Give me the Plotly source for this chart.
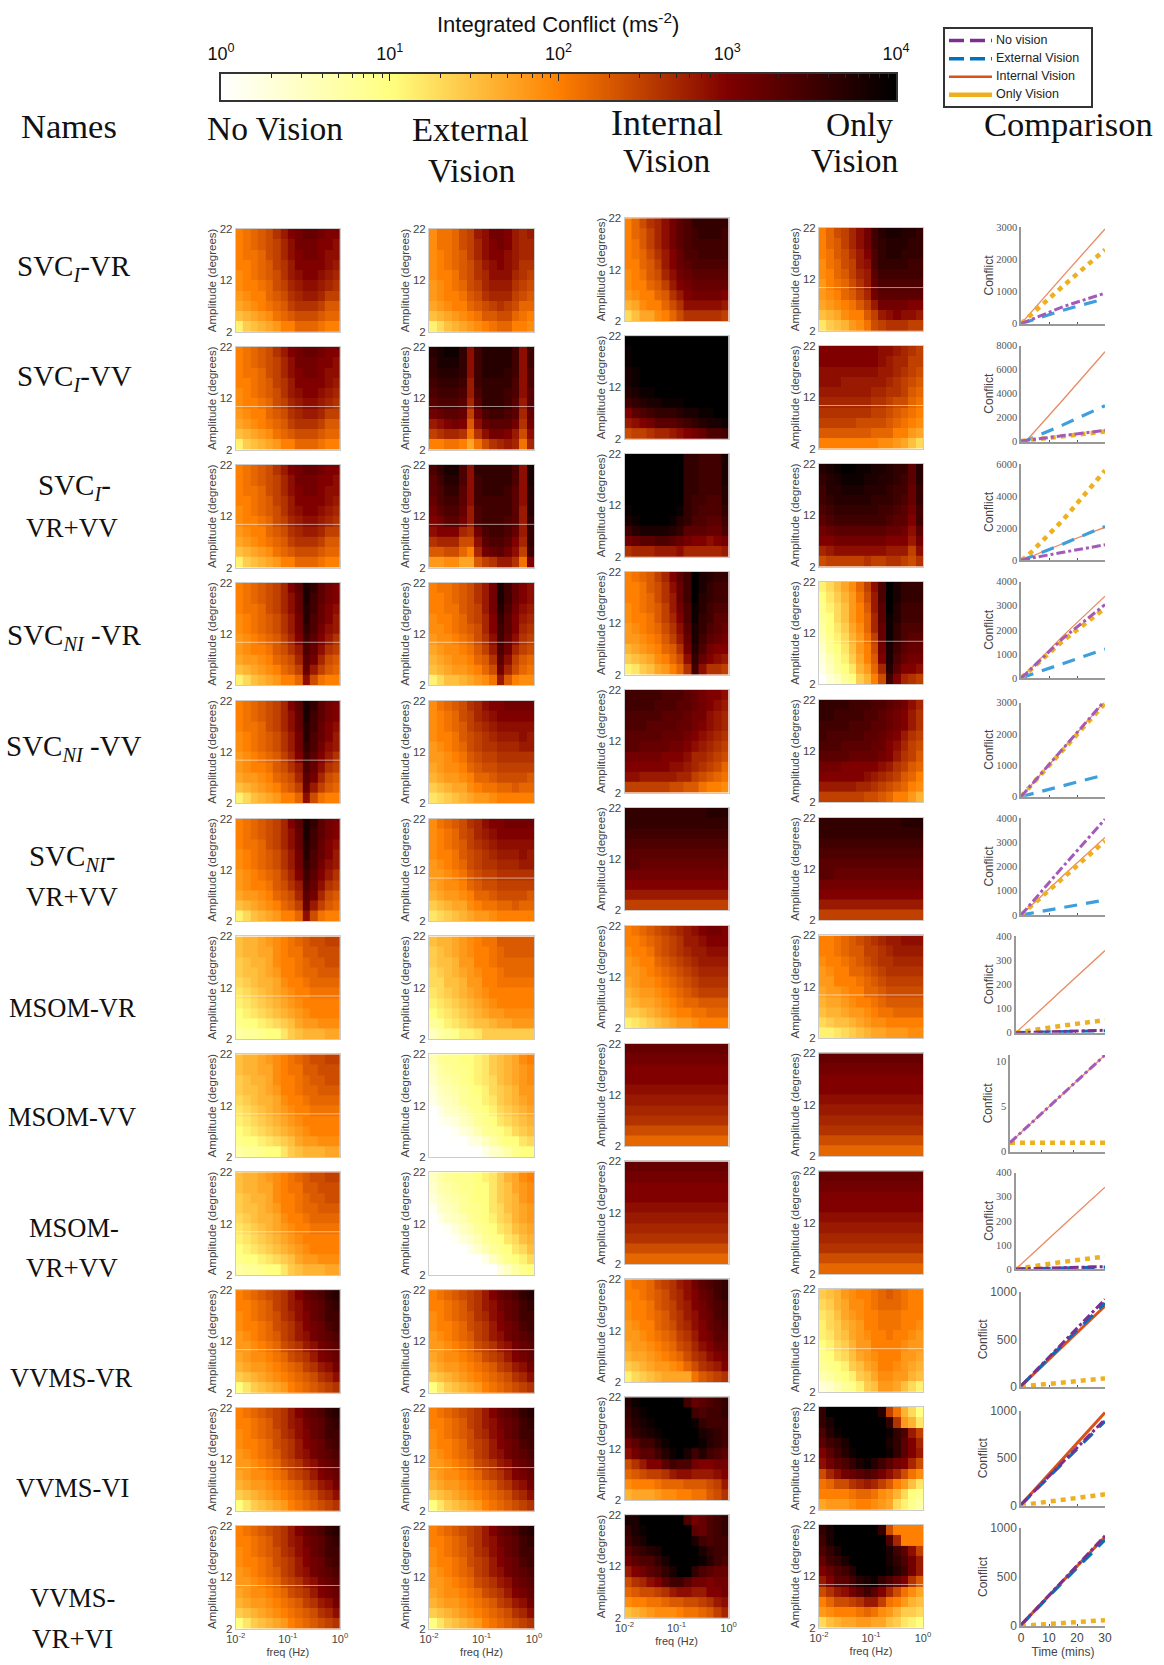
import numpy as np
import plotly.graph_objects as go

# ---- heat-map values: tenths of log10(integrated conflict), top row (22 deg) first, 14 freq columns ----
NV_SVCI = [
[20,21,22,23,24,26,28,30,31,32,32,31,30,30],
[20,21,22,23,24,25,27,29,31,31,31,30,30,29],
[20,21,21,22,24,25,27,29,30,31,31,30,29,29],
[20,20,21,22,23,25,26,28,30,30,30,30,29,28],
[19,20,21,22,23,24,26,28,29,30,30,29,28,27],
[19,20,20,21,22,24,25,27,28,29,29,28,27,26],
[18,19,20,20,22,23,24,26,27,28,28,27,25,25],
[17,18,19,20,21,22,23,25,26,26,26,25,23,23],
[15,16,17,18,19,21,22,23,24,24,24,23,22,22],
[11,14,15,16,17,18,20,20,22,22,22,21,20,20]]
NV_SVCNI = [
[20,21,22,23,24,25,27,30,33,38,36,33,31,30],
[20,21,22,23,24,25,27,29,32,38,35,33,31,30],
[20,21,21,22,24,25,27,29,32,37,35,32,30,29],
[19,20,21,22,23,24,26,28,31,37,34,32,30,28],
[19,20,21,22,23,24,26,28,31,36,34,31,29,28],
[18,19,20,21,22,23,25,27,30,35,33,30,28,26],
[18,19,20,20,21,23,24,26,28,34,32,29,26,25],
[17,18,18,19,20,22,23,24,27,33,31,27,24,23],
[15,16,17,18,19,20,22,23,25,32,28,25,23,22],
[11,13,15,16,17,18,20,20,22,29,24,21,20,20]]
NV_MSOM = [
[15,16,16,17,18,19,20,21,22,23,24,24,25,25],
[15,16,16,17,17,19,20,21,21,23,23,24,24,24],
[14,15,16,16,17,19,20,20,21,22,23,23,24,24],
[14,15,15,16,17,18,20,20,21,22,22,23,23,23],
[13,14,15,16,16,17,19,20,20,21,22,22,22,22],
[12,13,14,15,16,17,18,19,20,20,21,21,21,21],
[11,12,13,14,15,16,17,18,19,20,20,20,20,20],
[10,11,12,13,14,15,16,17,18,19,20,20,20,20],
[9,10,10,11,12,13,14,15,17,18,18,19,19,19],
[7,8,8,9,10,10,12,14,15,16,16,16,17,17]]
NV_VVMS = [
[20,21,22,23,24,25,26,28,30,32,33,34,36,37],
[20,20,21,22,23,25,26,28,29,31,32,33,35,36],
[19,20,21,22,23,24,26,27,29,30,32,33,35,35],
[19,20,20,21,22,24,25,26,28,30,31,32,34,35],
[18,19,20,21,22,23,25,26,28,29,31,32,33,34],
[18,18,19,20,21,22,24,25,26,28,29,31,32,33],
[17,18,19,19,20,21,22,24,25,26,28,30,31,32],
[16,17,18,18,19,20,21,22,23,25,26,28,29,31],
[14,15,16,17,18,19,20,21,22,23,24,26,27,29],
[10,12,14,15,16,17,18,20,21,22,23,24,25,26]]
EV_R1 = [
[19,21,21,22,24,25,28,29,31,31,30,28,27,28],
[19,21,21,22,24,25,27,29,30,31,30,28,27,27],
[19,20,21,22,23,25,27,29,30,30,29,28,27,27],
[19,20,21,22,23,24,26,28,29,30,29,28,26,26],
[19,20,20,21,23,24,26,27,29,29,29,27,26,25],
[18,19,20,21,22,24,25,27,28,28,28,26,25,24],
[18,19,20,20,21,23,24,26,27,27,27,25,24,23],
[17,18,19,20,20,22,23,24,25,26,25,24,22,22],
[15,16,17,18,19,20,21,23,23,24,24,22,21,20],
[11,13,15,16,17,18,19,20,21,22,22,20,20,19]]
EV_R2 = [
[37,38,39,39,36,29,35,37,37,37,37,35,29,35],
[36,38,38,38,36,29,35,37,37,37,37,35,29,35],
[36,37,37,37,36,29,35,37,37,37,36,35,29,34],
[35,36,36,36,35,28,35,36,36,36,36,34,29,34],
[34,35,35,35,34,28,34,36,36,36,35,34,29,33],
[33,34,34,34,33,27,33,36,36,36,35,33,28,33],
[31,32,33,33,32,25,31,34,35,35,34,33,27,32],
[28,29,30,31,30,23,29,32,33,33,33,31,26,31],
[25,26,27,27,26,21,26,29,31,31,30,28,24,29],
[20,20,21,21,20,17,21,24,26,27,28,27,21,27]]
EV_R3 = [
[34,36,38,38,34,29,36,36,36,36,36,34,29,38],
[33,35,37,37,34,29,35,36,36,36,36,34,29,38],
[33,34,36,36,33,29,35,36,36,36,35,33,29,37],
[32,34,35,35,33,29,35,35,35,35,35,33,29,37],
[31,33,34,34,32,28,34,35,35,35,35,33,28,37],
[30,31,33,33,31,28,34,35,35,35,34,33,28,36],
[29,30,30,30,27,26,31,34,35,35,34,32,28,36],
[26,27,27,27,24,24,29,33,34,34,33,30,27,36],
[23,23,24,24,22,20,27,31,32,33,31,29,25,35],
[18,18,19,19,17,17,23,25,26,28,28,26,21,30]]
EV_R4 = [
[20,21,21,22,23,24,26,28,31,38,35,32,30,29],
[20,20,21,22,23,24,26,28,31,38,35,32,30,29],
[20,20,21,21,23,24,25,28,31,37,34,31,29,28],
[19,20,20,21,22,24,25,27,30,36,33,30,28,27],
[19,19,20,21,22,23,24,27,30,35,33,30,27,26],
[18,19,19,20,21,22,24,26,29,35,32,29,26,25],
[17,18,19,19,20,21,23,25,28,34,31,27,25,24],
[16,17,18,19,19,20,22,23,26,33,29,25,23,22],
[15,16,17,18,18,19,20,22,24,31,27,24,22,21],
[11,13,15,15,16,17,18,19,21,28,23,20,19,19]]
EV_R5 = [
[19,21,22,23,24,26,27,29,30,30,31,31,31,31],
[19,20,21,22,24,25,27,28,29,30,30,30,30,30],
[19,20,21,22,23,25,26,27,28,29,29,29,29,29],
[19,20,20,21,23,24,25,26,27,28,28,28,29,28],
[18,19,20,21,22,24,25,26,26,27,27,27,28,28],
[18,18,19,20,21,23,24,25,25,26,26,26,26,26],
[17,18,19,19,20,22,23,24,24,25,25,25,25,25],
[16,17,18,18,19,20,22,22,23,24,24,24,24,23],
[14,15,16,17,17,19,20,21,21,22,22,23,22,22],
[12,13,14,15,16,17,18,18,19,20,20,20,20,20]]
EV_R7 = [
[15,16,16,17,18,19,20,21,21,23,23,23,23,23],
[14,15,16,17,18,19,20,20,21,22,23,23,23,23],
[14,15,15,16,18,18,20,20,21,22,22,22,22,22],
[13,14,15,16,17,18,19,20,20,21,22,22,22,22],
[13,13,15,15,16,18,18,20,20,21,21,21,21,21],
[12,13,14,15,16,17,18,19,20,20,20,20,20,20],
[11,12,13,14,15,16,17,18,19,20,20,20,20,20],
[10,11,12,13,14,15,16,17,18,18,19,19,19,19],
[8,9,11,12,13,14,15,15,16,17,17,18,18,18],
[5,7,8,9,11,11,12,14,14,14,14,14,14,14]]
EV_R8 = [
[6,8,9,9,10,10,11,12,14,15,16,17,19,20],
[5,7,8,9,9,10,11,12,14,15,16,17,18,19],
[4,6,7,8,9,10,11,12,13,15,16,17,18,19],
[3,5,6,7,8,9,10,11,13,14,15,16,18,18],
[2,4,5,6,8,9,9,11,12,14,15,16,17,18],
[0,2,4,5,6,8,9,10,11,13,14,15,16,17],
[0,1,2,3,5,6,8,9,10,12,13,14,15,16],
[0,0,0,1,3,4,6,8,9,10,11,13,14,15],
[0,0,0,0,0,2,3,5,7,9,10,10,12,13],
[0,0,0,0,0,0,0,2,4,5,7,9,10,10]]
EV_R9 = [
[5,7,8,9,9,9,10,11,12,14,16,17,19,20],
[4,6,7,8,9,9,10,10,12,14,15,17,18,19],
[3,5,6,7,8,9,10,10,12,14,15,16,18,19],
[1,4,5,6,8,9,9,10,12,13,15,16,17,18],
[0,2,4,5,6,8,9,10,11,13,14,16,17,18],
[0,0,1,3,5,6,8,9,10,12,13,15,16,17],
[0,0,0,1,3,4,6,8,9,10,12,13,15,16],
[0,0,0,0,0,2,4,6,8,9,10,12,13,15],
[0,0,0,0,0,0,0,2,5,7,9,10,11,13],
[0,0,0,0,0,0,0,0,0,3,5,7,9,10]]
IV_R1 = [
[20,22,24,26,27,29,31,33,34,36,36,36,36,36],
[20,22,23,25,27,29,31,33,34,35,36,36,36,35],
[20,21,23,25,27,29,31,33,34,35,35,35,35,35],
[20,21,22,24,26,28,30,32,34,34,35,35,35,35],
[20,20,22,23,25,28,30,32,33,34,34,34,34,34],
[19,20,21,23,24,27,29,31,32,33,33,33,33,33],
[19,20,20,22,23,25,28,30,31,32,32,32,32,32],
[18,19,20,20,22,23,26,28,30,31,31,31,31,30],
[16,17,19,20,20,22,24,26,29,29,29,29,29,28],
[13,15,17,17,19,20,22,24,26,26,26,26,26,25]]
IV_R2 = [
[40,40,40,40,40,40,40,40,40,40,40,40,40,40],
[39,40,40,40,40,40,40,40,40,40,40,40,40,40],
[39,40,40,40,40,40,40,40,40,40,40,40,40,40],
[38,39,40,40,40,40,40,40,40,40,40,40,40,40],
[38,39,40,40,40,40,40,40,40,40,40,40,40,40],
[37,38,39,39,40,40,40,40,40,40,40,40,40,40],
[35,36,37,38,38,39,39,39,40,40,40,40,40,40],
[30,33,34,35,36,36,36,37,38,38,39,39,40,40],
[28,29,30,31,33,33,33,34,35,36,37,38,38,39],
[24,25,25,26,27,27,28,29,30,31,32,34,34,35]]
IV_R3 = [
[40,40,40,40,40,40,40,40,36,36,35,35,35,38],
[40,40,40,40,40,40,40,40,36,36,35,35,35,38],
[40,40,40,40,40,40,40,40,36,36,35,35,35,38],
[40,40,40,40,40,40,40,40,36,36,35,35,35,37],
[40,40,40,40,40,40,40,40,36,35,35,34,34,37],
[39,40,40,40,40,40,40,39,36,35,34,34,34,36],
[38,39,40,40,40,40,39,37,36,34,34,33,33,35],
[35,37,38,38,38,38,37,36,33,33,33,32,32,34],
[31,32,33,33,34,34,33,32,31,30,30,29,30,31],
[26,27,27,27,28,28,28,29,27,27,27,27,27,28]]
IV_R4 = [
[20,21,22,23,25,27,30,33,35,40,38,37,36,36],
[20,20,21,23,24,26,29,32,35,40,38,36,35,35],
[20,20,21,22,24,26,28,32,35,40,37,36,35,35],
[19,20,21,22,23,25,28,31,34,39,37,35,34,34],
[19,20,20,21,23,25,27,30,34,39,36,35,33,33],
[18,19,20,21,22,24,26,29,33,38,36,34,33,32],
[18,18,19,20,21,23,25,28,32,38,35,33,32,31],
[16,17,18,19,20,22,23,26,31,37,34,31,30,30],
[14,15,16,17,19,20,22,24,29,36,32,30,29,28],
[11,12,14,15,17,18,20,22,26,35,29,26,26,25]]
IV_R5 = [
[35,35,35,35,35,34,34,34,33,32,31,30,30,29],
[35,35,35,35,34,34,34,33,33,32,31,30,29,28],
[34,34,34,34,34,33,33,33,32,31,31,29,28,27],
[34,34,34,33,33,33,33,32,32,31,30,29,28,27],
[33,33,33,33,33,32,32,32,31,30,29,28,27,26],
[33,33,32,32,32,32,31,31,30,29,28,27,26,25],
[31,31,31,31,31,30,30,30,29,27,27,26,25,24],
[30,30,30,30,30,30,29,29,28,27,26,25,24,22],
[29,29,28,28,28,28,28,27,27,25,24,23,22,21],
[25,25,25,25,25,25,24,24,23,23,21,20,20,19]]
BANDS_DARK = [
[36,36,36,36,36,36,36,36,36,36,36,37,37,37],
[36,36,36,36,36,36,36,36,36,36,36,36,36,36],
[35,35,35,35,35,35,35,35,35,35,35,35,35,35],
[34,34,34,34,34,34,34,34,34,34,34,34,34,34],
[33,33,33,33,33,33,33,33,33,33,33,33,33,33],
[33,33,32,32,32,32,32,32,32,32,32,32,32,32],
[31,31,31,31,31,31,31,31,31,31,31,31,31,31],
[30,30,30,30,30,30,30,30,30,30,30,30,30,30],
[28,28,28,28,28,28,28,28,28,28,28,28,28,28],
[25,25,25,25,25,25,25,25,25,25,25,25,25,25]]
BANDS_RED = [
[32,32,32,32,32,32,32,32,32,32,32,32,32,32],
[31,31,31,31,31,31,31,31,31,31,31,31,31,31],
[30,30,30,30,30,30,30,30,30,30,30,30,30,30],
[30,30,30,30,30,30,30,30,30,30,30,30,30,30],
[29,29,29,29,29,29,29,29,29,29,29,29,29,29],
[28,28,28,28,28,28,28,28,28,28,28,28,28,28],
[27,27,27,27,27,27,27,27,27,27,27,27,27,27],
[26,26,26,26,26,26,26,26,26,26,26,26,26,26],
[24,24,24,24,24,24,24,24,24,24,24,24,24,24],
[22,22,22,22,22,22,22,22,22,22,22,22,22,22]]
IV_R7 = [
[20,21,22,23,24,25,26,27,28,29,30,31,31,30],
[20,20,21,22,23,24,25,26,28,28,29,30,30,30],
[19,20,20,21,23,24,25,26,27,28,28,29,29,29],
[18,19,20,20,22,23,24,25,26,27,28,28,28,28],
[18,18,19,20,21,22,23,24,25,26,27,27,27,27],
[17,18,19,19,20,21,22,23,24,25,26,26,26,26],
[16,17,18,18,19,20,21,22,23,24,25,25,25,25],
[15,16,17,17,18,19,20,21,22,22,23,23,23,23],
[14,14,15,16,17,18,19,20,20,21,21,22,22,22],
[11,12,13,14,15,16,17,18,18,19,20,20,20,20]]
IV_R10 = [
[20,21,21,22,24,25,26,28,29,31,33,34,35,36],
[20,20,21,22,23,24,26,27,29,30,32,33,35,36],
[19,20,20,21,23,24,25,27,28,30,31,33,34,35],
[19,20,20,21,22,23,25,26,28,29,31,32,34,35],
[18,19,20,20,22,23,24,26,27,29,30,32,33,34],
[18,18,19,20,21,22,23,25,26,28,30,31,33,33],
[17,18,18,19,20,21,22,24,25,27,29,30,32,32],
[16,17,17,18,19,20,21,22,24,26,27,29,30,31],
[14,15,16,17,18,18,19,20,22,24,26,27,28,30],
[11,13,14,15,16,17,17,17,17,21,23,24,25,26]]
IV_R11 = [
[37,39,40,40,40,40,40,40,35,32,33,34,35,36],
[36,38,39,40,40,40,40,40,40,35,34,35,35,36],
[35,37,38,39,40,40,40,40,40,39,36,35,35,35],
[34,36,37,38,39,40,40,40,40,40,38,37,36,35],
[31,33,35,35,37,39,40,40,40,40,39,37,36,35],
[29,31,33,33,35,37,39,40,38,35,37,35,34,33],
[24,26,28,30,30,33,35,34,34,31,30,30,31,31],
[22,23,24,25,25,26,28,29,29,28,28,28,29,30],
[19,20,20,20,21,22,22,22,23,23,23,24,25,28],
[16,17,17,17,18,19,19,20,20,21,21,23,24,26]]
IV_R12 = [
[38,38,40,40,40,40,40,40,34,31,32,34,35,36],
[36,38,39,40,40,40,40,40,40,33,32,34,35,36],
[35,37,38,40,40,40,40,40,40,38,35,34,35,35],
[33,35,36,37,38,40,40,40,40,40,38,36,35,35],
[31,33,34,34,36,38,40,40,40,40,39,37,35,34],
[28,30,31,33,34,36,38,40,40,36,34,33,32,32],
[24,26,27,29,30,33,35,35,33,31,31,30,31,31],
[22,23,24,24,25,26,28,29,29,28,28,30,30,31],
[19,20,20,21,21,22,23,23,24,24,25,26,28,29],
[15,16,17,18,19,19,19,20,21,21,22,23,25,27]]
OV_R1 = [
[20,22,24,25,27,29,31,35,37,38,38,37,37,36],
[20,22,23,25,27,29,31,35,36,37,37,37,36,36],
[20,21,23,24,26,28,30,34,36,37,37,36,36,36],
[19,21,22,24,25,28,29,34,36,36,36,36,35,35],
[19,20,22,23,25,27,28,33,35,35,35,35,35,35],
[18,20,21,22,24,26,28,32,34,34,34,34,34,34],
[18,19,20,22,23,25,27,31,33,33,33,33,33,33],
[17,18,19,20,21,23,25,28,31,31,31,31,30,30],
[15,16,17,19,20,20,23,25,28,29,30,29,29,28],
[12,14,15,16,18,19,21,24,25,26,26,26,25,25]]
OV_R2 = [
[30,30,30,30,30,30,30,30,29,29,28,27,26,25],
[30,30,30,30,30,30,30,30,29,28,27,27,25,25],
[29,29,29,29,29,29,29,29,28,28,27,26,25,24],
[29,29,29,28,28,28,28,28,28,27,26,25,24,23],
[28,28,28,28,28,28,28,27,27,26,26,25,23,22],
[27,27,27,27,27,27,27,26,26,25,24,24,22,21],
[26,26,26,26,26,26,26,25,25,24,23,22,21,20],
[25,25,25,25,25,24,24,24,24,23,22,21,20,19],
[23,23,23,23,23,23,23,22,22,22,20,20,18,17],
[20,20,20,20,20,20,20,20,19,19,18,17,15,13]]
OV_R3 = [
[37,38,39,40,40,39,39,38,38,37,36,36,33,37],
[36,37,38,39,39,39,38,38,37,37,36,35,33,37],
[35,37,37,38,38,38,37,37,37,36,35,35,32,36],
[35,36,37,37,37,37,37,36,36,36,35,34,32,36],
[34,35,36,36,36,36,36,36,35,35,34,33,31,35],
[33,34,35,35,35,35,35,35,35,34,33,33,30,35],
[31,32,33,33,33,33,33,33,33,32,32,31,29,33],
[30,30,31,31,31,31,31,31,31,30,30,30,28,31],
[27,28,29,29,29,29,29,29,29,28,28,28,25,29],
[24,25,25,25,25,25,26,25,25,26,26,25,24,26]]
OV_R4 = [
[11,13,15,17,19,22,25,29,34,40,38,36,36,36],
[10,12,14,16,18,21,24,28,34,40,38,36,36,36],
[9,11,13,15,18,20,23,28,33,40,37,35,35,35],
[8,10,13,15,18,20,22,27,33,39,37,35,35,35],
[7,10,12,14,17,19,22,27,32,39,36,34,34,34],
[6,9,11,13,16,18,21,25,32,39,36,34,33,33],
[4,8,10,12,15,18,20,24,31,38,35,33,32,32],
[3,6,9,11,14,17,20,23,30,38,34,32,31,31],
[2,5,8,10,12,16,18,22,27,37,33,30,30,29],
[0,3,5,8,10,14,16,20,24,35,30,27,26,25]]
OV_R5 = [
[36,36,36,36,35,35,35,34,34,33,32,31,29,27],
[36,36,35,35,35,35,34,34,33,32,31,30,28,26],
[35,35,35,35,34,34,34,33,33,32,31,30,28,26],
[35,34,34,34,34,34,33,33,32,31,30,28,26,25],
[34,34,34,33,33,33,33,32,32,30,29,27,25,24],
[33,33,33,33,32,32,32,32,31,30,28,26,25,23],
[31,31,31,30,30,30,30,30,29,28,26,25,23,22],
[30,30,30,30,30,30,29,28,27,26,25,23,22,20],
[28,28,28,28,28,27,27,26,25,24,23,22,20,19],
[25,25,25,25,25,25,24,24,23,22,20,20,18,16]]
OV_R7 = [
[20,20,21,22,23,24,25,26,27,28,28,29,29,29],
[20,20,21,22,23,23,25,25,26,27,28,28,28,28],
[19,20,20,21,22,23,24,25,26,26,27,27,27,27],
[18,19,20,20,22,22,23,24,25,26,26,26,26,26],
[18,18,20,20,20,21,22,23,24,25,25,25,25,25],
[17,18,18,19,20,20,22,22,23,24,24,24,24,24],
[16,17,17,18,19,20,20,21,22,23,23,23,23,23],
[15,16,16,17,18,18,19,20,21,21,22,22,22,22],
[13,14,15,15,16,17,18,19,19,20,20,20,20,20],
[11,11,12,13,14,15,16,17,17,18,18,18,19,19]]
OV_R10 = [
[14,15,16,18,19,20,20,21,22,23,22,21,20,20],
[13,14,16,17,19,19,20,21,22,22,22,21,20,20],
[12,13,15,17,18,19,20,20,21,21,21,20,20,20],
[11,13,14,16,17,18,20,20,21,21,21,20,20,19],
[11,12,14,15,17,18,19,20,20,21,20,20,19,18],
[10,11,13,14,16,18,18,20,20,20,20,19,18,18],
[9,10,12,13,15,17,18,19,20,20,20,18,18,17],
[8,9,10,11,14,15,17,18,20,20,19,18,17,16],
[6,7,9,10,11,14,15,17,19,19,18,18,16,15],
[3,4,6,8,9,11,14,15,18,18,17,15,13,11]]
OV_R11 = [
[36,40,40,40,40,40,40,40,37,25,21,16,13,10],
[36,38,40,40,40,40,40,40,40,36,26,18,16,12],
[34,37,39,40,40,40,40,40,40,39,36,34,28,25],
[33,35,36,38,40,40,40,40,40,38,36,33,30,27],
[30,33,35,37,39,40,40,40,40,39,36,33,30,28],
[29,31,33,34,36,38,39,37,35,33,31,30,27,24],
[24,27,29,31,32,33,34,33,31,29,27,24,21,19],
[21,22,24,24,26,27,28,27,25,23,20,18,15,12],
[20,20,20,20,21,22,22,21,19,18,16,13,10,9],
[17,18,18,18,19,20,20,19,18,17,13,11,9,7]]
OV_R12 = [
[36,38,40,40,40,40,40,40,36,24,20,20,20,20],
[35,38,40,40,40,40,40,40,40,34,27,20,20,20],
[34,36,38,40,40,40,40,40,40,38,35,33,29,25],
[32,35,36,38,40,40,40,40,40,38,36,34,31,28],
[30,32,34,35,37,40,40,40,40,39,37,35,31,28],
[28,30,33,33,35,37,38,39,36,34,32,30,26,23],
[24,26,28,29,31,33,35,33,30,27,24,21,19,17],
[20,22,24,24,25,26,28,28,25,21,20,18,16,15],
[18,19,20,20,20,21,22,21,19,18,16,14,14,13],
[13,15,16,17,17,18,18,17,17,15,14,12,11,10]]

PANELS = [
 [NV_SVCI, EV_R1, IV_R1, OV_R1],
 [NV_SVCI, EV_R2, IV_R2, OV_R2],
 [NV_SVCI, EV_R3, IV_R3, OV_R3],
 [NV_SVCNI, EV_R4, IV_R4, OV_R4],
 [NV_SVCNI, EV_R5, IV_R5, OV_R5],
 [NV_SVCNI, EV_R5, BANDS_DARK, BANDS_DARK],
 [NV_MSOM, EV_R7, IV_R7, OV_R7],
 [NV_MSOM, EV_R8, BANDS_RED, BANDS_RED],
 [NV_MSOM, EV_R9, BANDS_RED, BANDS_RED],
 [NV_VVMS, NV_VVMS, IV_R10, OV_R10],
 [NV_VVMS, NV_VVMS, IV_R11, OV_R11],
 [NV_VVMS, NV_VVMS, IV_R12, OV_R12],
]
# panels that carry a thin pale seam across them (row, col)
SEAMS = [(0,3),(1,0),(1,1),(1,3),(2,0),(2,1),(3,0),(3,1),(3,3),(4,0),(5,1),(6,0),(6,3),(7,0),(7,1),(8,0),
         (9,0),(9,1),(9,3),(10,0),(10,1),(11,0),(11,3)]

# ---- comparison curves: time points and conflict at those times ----
TIME = [0, 2, 15, 30]
NO_VISION = [[0,70,530,950],[50,110,520,950],[0,70,480,950],[0,200,1650,3050],[0,205,1550,3070],[0,260,2000,3950],
             [0,0.7,5,10],[1,1.65,5.85,10.7],[0,0.7,5,10],[10,70,470,920],[10,70,460,910],[10,70,470,920]]
EXTERNAL = [[0,55,420,780],[0,100,1400,3000],[0,100,1000,2100],[0,80,600,1200],[0,50,350,700],[0,40,310,620],
            [0,0.6,4,8],[1,1,1,1],[0,0.6,4,8],[10,70,450,880],[10,70,450,890],[10,70,450,880]]
INTERNAL = [[0,200,1480,2950],[100,100,3500,7500],[0,100,1030,2050],[0,220,1750,3400],[0,205,1540,3050],[0,210,1620,3200],
            [0,22,170,340],[1,1.65,5.85,10.7],[0,22,170,340],[10,65,430,850],[10,75,500,980],[10,70,470,910]]
ONLY = [[0,160,1170,2300],[50,100,480,850],[0,200,2500,5600],[0,190,1550,2900],[0,200,1500,2980],[0,200,1550,3050],
        [0,4,28,52],[1,1,1,1],[0,4,28,52],[5,10,45,90],[5,12,60,120],[0,6,30,60]]
Y_TOP = [3000,8000,6000,4000,3000,4000,400,10.7,400,1000,1000,1000]
Y_TICKS = [[0,1000,2000,3000],[0,2000,4000,6000,8000],[0,2000,4000,6000],[0,1000,2000,3000,4000],[0,1000,2000,3000],
           [0,1000,2000,3000,4000],[0,100,200,300,400],[0,5,10],[0,100,200,300,400],[0,500,1000],[0,500,1000],[0,500,1000]]
LEGEND_NAMES = ['No vision','External Vision','Internal Vision','Only Vision']

COLORSCALE = [[0,'#ffffff'],[0.25,'#ffff80'],[0.5,'#ff8000'],[0.75,'#800000'],[1,'#000000']]
FREQ_EDGES = list(10**np.linspace(-2,0,15))
AMP_EDGES = [2,4,6,8,10,12,14,16,18,20,22]

W, H = 1164, 1665
def dx(a,b): return [a/W, b/W]
def dy(top,bot): return [1-bot/H, 1-top/H]

fig = go.Figure()
layout = {}
shapes = []
annos = []
SANS = 'Liberation Sans, Arial, sans-serif'
SERIF = 'Liberation Serif, Times New Roman, serif'
GREY = '#444444'

COL_X = [(235.8,339.9),(429,534),(624.5,728.6),(819,923)]
COL_DY = [0,0,-10.8,-1]
n = 0
for r in range(12):
    for c in range(4):
        n += 1
        top = 229 + r*117.9 + COL_DY[c]
        bot = top + 102.7
        fig.add_trace(go.Heatmap(x=FREQ_EDGES, y=AMP_EDGES, z=np.array(PANELS[r][c])[::-1]/10,
                                 coloraxis='coloraxis', xaxis=f'x{n}', yaxis=f'y{n}', hoverinfo='skip'))
        last = r == 11
        xa = dict(domain=dx(*COL_X[c]), type='log', range=[-2,0], anchor=f'y{n}',
            showgrid=False, zeroline=False, showline=True, mirror=True, linecolor='#cccccc', linewidth=1,
            ticks='', tickmode='array', tickvals=[0.01,0.1,1],
            ticktext=['10<sup>-2</sup>','10<sup>-1</sup>','10<sup>0</sup>'], showticklabels=last,
            tickfont=dict(family=SANS,size=11,color=GREY))
        if last:
            xa['title'] = dict(text='freq (Hz)', font=dict(family=SANS,size=11,color=GREY), standoff=4)
        layout[f'xaxis{n}'] = xa
        layout[f'yaxis{n}'] = dict(domain=dy(top,bot), range=[2,22], anchor=f'x{n}',
            showgrid=False, zeroline=False, showline=True, mirror=True, linecolor='#cccccc', linewidth=1,
            ticks='', tickmode='array', tickvals=[2,12,22], tickfont=dict(family=SANS,size=11.5,color=GREY),
            title=dict(text='Amplitude (degrees)', font=dict(family=SANS,size=11.5,color=GREY), standoff=0))
        if (r,c) in SEAMS:
            shapes.append(dict(type='line', xref=f'x{n} domain', yref=f'y{n}', x0=0, x1=1, y0=10.4, y1=10.4,
                               line=dict(color='rgba(255,255,255,0.55)', width=1)))

# comparison column
CMP_Y = [(227.3,323.7),(345.7,441.7),(464,560),(581.7,678),(702.7,796.7),(818,915),(936,1032.7),(1055,1151.7),
         (1172.7,1269),(1291.7,1387),(1410.7,1505.7),(1528,1626)]
CMP_X0 = [1021,1021,1021,1021,1021,1021,1015.7,1010,1015.7,1021,1021,1021]
for r in range(12):
    n += 1
    strong = r >= 9
    dark = r in (6,8)
    styles = [
        (INTERNAL[r], '#d95319' if strong else '#ea8a62', 3 if strong else 1.3, 'solid'),
        (EXTERNAL[r], '#0072bd' if strong or dark else '#3f9fdc', 3.2, '5px,5px' if r == 7 else '13px,9px'),
        (ONLY[r], '#edb120', 4.5, '5px,5px'),
        (NO_VISION[r], '#7e2f8e' if strong or dark else '#a45ab8', 3, '9px,3px,3px,3px'),
    ]
    for vals, col, wd, dash in styles:
        fig.add_trace(go.Scatter(x=TIME, y=vals, mode='lines', showlegend=False, hoverinfo='skip',
                                 line=dict(color=col, width=wd, dash=dash), xaxis=f'x{n}', yaxis=f'y{n}'))
    last = r == 11
    xa = dict(domain=dx(CMP_X0[r],1105), range=[0,30], anchor=f'y{n}', showgrid=False, zeroline=False,
        showline=True, linecolor='#999999', linewidth=1.5, ticks='inside', ticklen=2, tickcolor='#555555',
        tickmode='array', tickvals=[0,10,20,30], showticklabels=last,
        tickfont=dict(family=SANS,size=12,color=GREY))
    if last:
        xa['title'] = dict(text='Time (mins)', font=dict(family=SANS,size=12,color=GREY), standoff=3)
    layout[f'xaxis{n}'] = xa
    layout[f'yaxis{n}'] = dict(domain=dy(*CMP_Y[r]), range=[0,Y_TOP[r]], anchor=f'x{n}', showgrid=False, zeroline=False,
        showline=True, linecolor='#999999', linewidth=1.5, ticks='', tickmode='array', tickvals=Y_TICKS[r],
        tickfont=dict(family=SANS if strong else SERIF, size=12 if strong else 10.5, color='#555555'),
        title=dict(text='Conflict', font=dict(family=SANS,size=12,color=GREY), standoff=0))

# legend box: its own small axes, sized in pixels
n += 1
LEG_STYLE = [('#7e2f8e',3.5,'15px,6px'),('#0072bd',3.5,'15px,6px'),('#d95319',2.5,'solid'),('#edb120',4.5,'solid')]
LEG_ROW = [11.6,29.7,47.7,65.7]
for name, (col,wd,dash), yy in zip(LEGEND_NAMES, LEG_STYLE, LEG_ROW):
    fig.add_trace(go.Scatter(x=[4,47], y=[yy,yy], mode='lines', line=dict(color=col,width=wd,dash=dash),
                             showlegend=False, hoverinfo='skip', xaxis=f'x{n}', yaxis=f'y{n}'))
    fig.add_trace(go.Scatter(x=[51], y=[yy], mode='text', text=[name], textposition='middle right',
                             textfont=dict(family=SANS,size=12.5,color='#222222'), showlegend=False, hoverinfo='skip',
                             xaxis=f'x{n}', yaxis=f'y{n}', cliponaxis=False))
layout[f'xaxis{n}'] = dict(domain=dx(945,1091), range=[0,146], anchor=f'y{n}', showgrid=False, zeroline=False, showline=True,
                           mirror=True, linecolor='#333333', linewidth=2, ticks='', showticklabels=False)
layout[f'yaxis{n}'] = dict(domain=dy(29,106), range=[77,0], anchor=f'x{n}', showgrid=False, zeroline=False, showline=True,
                           mirror=True, linecolor='#333333', linewidth=2, ticks='', showticklabels=False)

# colour bar drawn on its own log axis
n += 1
CB_EDGES = list(10**np.linspace(0,4,257))
fig.add_trace(go.Heatmap(x=CB_EDGES, y=[0,1], z=[list(np.linspace(0,4,256))], coloraxis='coloraxis',
                         xaxis=f'x{n}', yaxis=f'y{n}', hoverinfo='skip'))
MINOR = [m*10**e for e in range(4) for m in range(2,10)]
layout[f'xaxis{n}'] = dict(domain=dx(221,896), type='log', range=[0,4], anchor=f'y{n}', side='top', showgrid=False,
    zeroline=False, showline=True, mirror=True, linecolor='#333333', linewidth=1.5, ticks='inside', ticklen=7,
    tickcolor='#222222', tickmode='array', tickvals=[1,10,100,1000,10000], ticklabelstandoff=5,
    ticktext=['10<sup>0</sup>','10<sup>1</sup>','10<sup>2</sup>','10<sup>3</sup>','10<sup>4</sup>'],
    tickfont=dict(family=SANS,size=18,color='#111111'),
    minor=dict(tickmode='array', tickvals=MINOR, ticks='inside', ticklen=4, tickcolor='#222222', showgrid=False))
layout[f'yaxis{n}'] = dict(domain=dy(74,100), range=[0,1], anchor=f'x{n}', showgrid=False, zeroline=False,
    showline=True, mirror=True, linecolor='#333333', linewidth=1.5, ticks='', showticklabels=False)

def text(txt, xc, yc, size=33.5, family=SERIF, color='#111111'):
    annos.append(dict(text=txt, x=xc/W, y=1-yc/H, xref='paper', yref='paper', xanchor='center', yanchor='middle',
                      showarrow=False, font=dict(family=family,size=size,color=color)))

text('Integrated Conflict (ms<sup>-2</sup>)', 558, 23, 22, SANS)
text('Names', 69, 126, 34.5)
text('No Vision', 275, 129)
text('External', 470, 129, 34.5); text('Vision', 472, 170)
text('Internal', 667, 123, 36); text('Vision', 667, 160)
text('Only', 859, 124); text('Vision', 855, 160)
text('Comparison', 1068, 124, 34.5)
ROW_NAMES = [('SVC<sub><i>I</i></sub>-VR',74,268,29),('SVC<sub><i>I</i></sub>-VV',74,378,29),('SVC<sub><i>I</i></sub>-',75,487,29),
             ('VR+VV',72,528,27),('SVC<sub><i>NI</i></sub> -VR',74,637,29),('SVC<sub><i>NI</i></sub> -VV',74,748,29),
             ('SVC<sub><i>NI</i></sub>-',72,858,29),('VR+VV',72,897,27),('MSOM-VR',72,1008,26.5),('MSOM-VV',72,1117,26.5),
             ('MSOM-',74,1228,26.5),('VR+VV',72,1268,27),('VVMS-VR',71,1378,26.5),('VVMS-VI',72,1488,26.5),('VVMS-',72,1598,26.5),('VR+VI',72,1639,27)]
for t,x,y,s in ROW_NAMES:
    text(t,x,y,s)

fig.update_layout(width=W, height=H, margin=dict(l=0,r=0,t=0,b=0,autoexpand=False), paper_bgcolor='white', plot_bgcolor='white',
    coloraxis=dict(colorscale=COLORSCALE, cmin=0, cmax=4, showscale=False), shapes=shapes, annotations=annos,
    showlegend=False, **layout)

fig.write_html("out.html", config={'displayModeBar':False},
               post_script="document.body.style.margin='0';document.body.style.overflow='hidden';")
